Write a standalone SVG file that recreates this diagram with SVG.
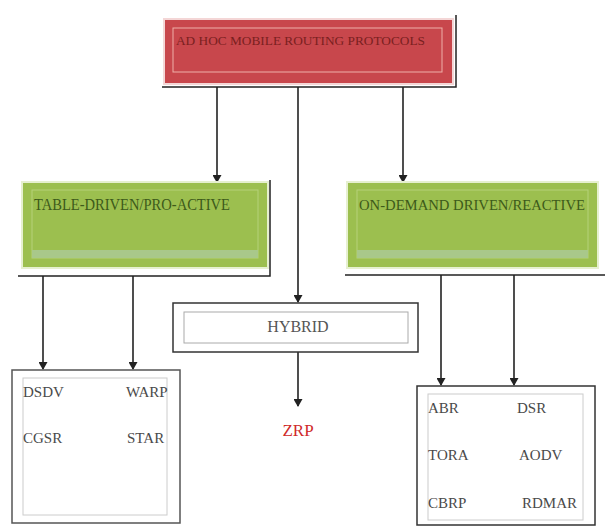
<svg xmlns="http://www.w3.org/2000/svg" width="605" height="527" viewBox="0 0 605 527">
<style>
text{font-family:"Liberation Serif","Times New Roman",serif}
.lbl{font-size:15px;fill:#4a4a4a}
.conn{stroke:#222;stroke-width:1.6;fill:none}
.shadow{stroke:#222;stroke-width:1.5;fill:none}
</style>
<defs>
<marker id="ah" markerWidth="8" markerHeight="9" refX="7" refY="4.5" orient="auto" markerUnits="userSpaceOnUse">
<path d="M0,0 L8,4.5 L0,9 Z" fill="#222"/>
</marker>
</defs>
<rect width="605" height="527" fill="#fff"/>
<g id="connectors">
<line class="conn" x1="217" y1="87" x2="217" y2="182" marker-end="url(#ah)"/>
<line class="conn" x1="298" y1="87" x2="298" y2="302" marker-end="url(#ah)"/>
<line class="conn" x1="403" y1="87" x2="403" y2="182" marker-end="url(#ah)"/>
<line class="conn" x1="43" y1="276" x2="43" y2="369" marker-end="url(#ah)"/>
<line class="conn" x1="133" y1="276" x2="133" y2="369" marker-end="url(#ah)"/>
<line class="conn" x1="441" y1="275" x2="441" y2="385" marker-end="url(#ah)"/>
<line class="conn" x1="514" y1="275" x2="514" y2="385" marker-end="url(#ah)"/>
<line class="conn" x1="298" y1="352" x2="298" y2="406" marker-end="url(#ah)"/>
</g>
<g id="root">
<polyline class="shadow" points="162,87 456,87 456,15"/>
<rect x="164" y="19" width="289" height="65" fill="#c8474c" stroke="#f4d6d6" stroke-width="2"/>
<rect x="173" y="28" width="269" height="44" fill="none" stroke="#eeb0a8" stroke-width="1"/>
<text x="176" y="45" font-size="12" fill="#7a1f1f" textLength="249" lengthAdjust="spacingAndGlyphs">AD HOC MOBILE ROUTING PROTOCOLS</text>
</g>
<g id="table-driven">
<polyline class="shadow" points="18,276 270,276 270,180"/>
<rect x="22" y="182" width="246" height="86" fill="#9cbf4f" stroke="#e6f0d0" stroke-width="2"/>
<rect x="32" y="190" width="226" height="68" fill="none" stroke="#b5d27a" stroke-width="1"/>
<rect x="32" y="250" width="226" height="8" fill="#a9c88a"/>
<text x="34" y="210" font-size="16" fill="#3d5a1a" textLength="196" lengthAdjust="spacingAndGlyphs">TABLE-DRIVEN/PRO-ACTIVE</text>
</g>
<g id="on-demand">
<polyline class="shadow" points="345,275 605,275"/>
<rect x="347" y="182" width="251" height="86" fill="#9cbf4f" stroke="#e6f0d0" stroke-width="2"/>
<rect x="357" y="190" width="231" height="68" fill="none" stroke="#b5d27a" stroke-width="1"/>
<rect x="357" y="250" width="231" height="8" fill="#a9c88a"/>
<text x="359" y="210" font-size="15" fill="#3d5a1a" textLength="226" lengthAdjust="spacingAndGlyphs">ON-DEMAND DRIVEN/REACTIVE</text>
</g>
<g id="hybrid">
<rect x="173" y="303" width="245" height="49" fill="#fff" stroke="#333" stroke-width="1.5"/>
<rect x="184" y="312" width="224" height="31" fill="none" stroke="#aaa" stroke-width="1"/>
<text x="298" y="332" font-size="16" fill="#555" text-anchor="middle">HYBRID</text>
</g>
<g id="zrp">
<text x="298" y="436" font-size="17" fill="#d02a2a" text-anchor="middle">ZRP</text>
</g>
<g id="table-protocols">
<rect x="12" y="370" width="168" height="153" fill="#fff" stroke="#555" stroke-width="1.5"/>
<rect x="23" y="378" width="144" height="137" fill="none" stroke="#ccc" stroke-width="1"/>
<text class="lbl" x="23" y="397">DSDV</text>
<text class="lbl" x="126" y="397">WARP</text>
<text class="lbl" x="23" y="443">CGSR</text>
<text class="lbl" x="127" y="443">STAR</text>
</g>
<g id="reactive-protocols">
<rect x="417" y="386" width="178" height="139" fill="#fff" stroke="#333" stroke-width="1.5"/>
<rect x="428" y="394" width="155" height="126" fill="none" stroke="#ccc" stroke-width="1"/>
<text class="lbl" x="428" y="413">ABR</text>
<text class="lbl" x="517" y="413">DSR</text>
<text class="lbl" x="428" y="460">TORA</text>
<text class="lbl" x="519" y="460">AODV</text>
<text class="lbl" x="428" y="508">CBRP</text>
<text class="lbl" x="522" y="508">RDMAR</text>
</g>
</svg>
